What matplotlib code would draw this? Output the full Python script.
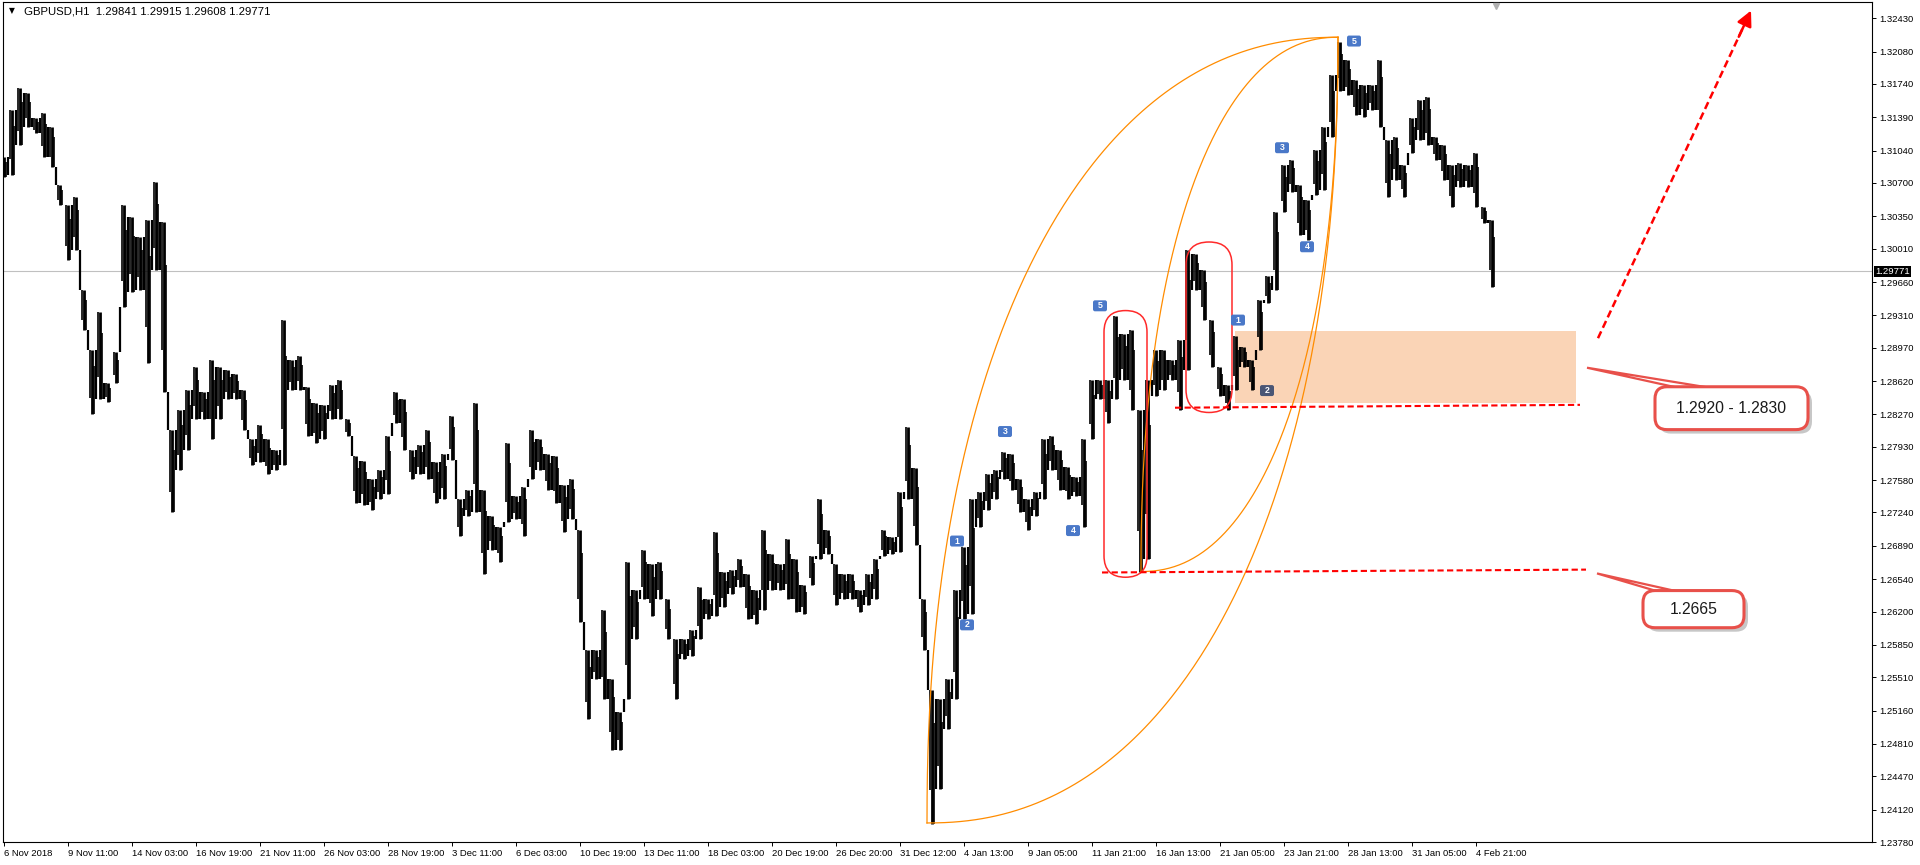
import numpy as np
import matplotlib.pyplot as plt
from matplotlib.patches import FancyBboxPatch, Polygon, Rectangle

plt.rcParams['font.family'] = ['Liberation Sans', 'DejaVu Sans']

# GBPUSD H1 - each column = 8 hourly bars, high / low
highs = [
    1.3097, 1.3147, 1.3170, 1.3164, 1.3138, 1.3143, 1.3129, 1.3068, 1.3047, 1.3055,
    1.2958, 1.2895, 1.2935, 1.2860, 1.2892, 1.3047, 1.3034, 1.3013, 1.3031, 1.3071,
    1.3029, 1.2811, 1.2832, 1.2853, 1.2877, 1.2850, 1.2884, 1.2877, 1.2874, 1.2869,
    1.2853, 1.2801, 1.2816, 1.2801, 1.2790, 1.2926, 1.2884, 1.2888, 1.2856, 1.2839,
    1.2837, 1.2858, 1.2863, 1.2822, 1.2783, 1.2778, 1.2759, 1.2769, 1.2804, 1.2850,
    1.2843, 1.2790, 1.2795, 1.2811, 1.2777, 1.2785, 1.2825, 1.2738, 1.2748, 1.2839,
    1.2748, 1.2720, 1.2709, 1.2797, 1.2741, 1.2751, 1.2811, 1.2801, 1.2785, 1.2783,
    1.2753, 1.2759, 1.2706, 1.2580, 1.2580, 1.2622, 1.2549, 1.2514, 1.2672, 1.2643,
    1.2685, 1.2670, 1.2672, 1.2633, 1.2591, 1.2591, 1.2601, 1.2646, 1.2633, 1.2704,
    1.2661, 1.2664, 1.2675, 1.2659, 1.2643, 1.2706, 1.2680, 1.2670, 1.2696, 1.2675,
    1.2648, 1.2678, 1.2738, 1.2706, 1.2670, 1.2659, 1.2659, 1.2643, 1.2659, 1.2675,
    1.2706, 1.2698, 1.2745, 1.2814, 1.2771, 1.2633, 1.2538, 1.2528, 1.2549, 1.2643,
    1.2688, 1.2738, 1.2745, 1.2764, 1.2769, 1.2788, 1.2785, 1.2759, 1.2738, 1.2745,
    1.2801, 1.2804, 1.2790, 1.2772, 1.2761, 1.2801, 1.2863, 1.2863, 1.2863, 1.2930,
    1.2911, 1.2916, 1.2832, 1.2863, 1.2895, 1.2895, 1.2884, 1.2905, 1.3000, 1.2995,
    1.2979, 1.2926, 1.2877, 1.2858, 1.2909, 1.2898, 1.2884, 1.2947, 1.2972, 1.3039,
    1.3089, 1.3094, 1.3068, 1.3052, 1.3105, 1.3129, 1.3183, 1.3218, 1.3199, 1.3178,
    1.3173, 1.3173, 1.3199, 1.3115, 1.3118, 1.3089, 1.3138, 1.3157, 1.3160, 1.3118,
    1.3110, 1.3089, 1.3091, 1.3089, 1.3101, 1.3045, 1.3031]
lows = [
    1.3076, 1.3078, 1.3110, 1.3129, 1.3122, 1.3097, 1.3087, 1.3047, 1.2989, 1.3000,
    1.2916, 1.2827, 1.2843, 1.2840, 1.2860, 1.2940, 1.2955, 1.2958, 1.2881, 1.2979,
    1.2850, 1.2724, 1.2769, 1.2790, 1.2822, 1.2822, 1.2801, 1.2822, 1.2843, 1.2843,
    1.2811, 1.2774, 1.2777, 1.2764, 1.2769, 1.2774, 1.2853, 1.2853, 1.2804, 1.2797,
    1.2801, 1.2822, 1.2822, 1.2804, 1.2734, 1.2732, 1.2727, 1.2738, 1.2743, 1.2818,
    1.2790, 1.2759, 1.2764, 1.2759, 1.2734, 1.2738, 1.2779, 1.2699, 1.2720, 1.2725,
    1.2659, 1.2685, 1.2672, 1.2714, 1.2717, 1.2699, 1.2759, 1.2769, 1.2748, 1.2734,
    1.2703, 1.2717, 1.2609, 1.2507, 1.2549, 1.2528, 1.2475, 1.2475, 1.2528, 1.2591,
    1.2633, 1.2615, 1.2633, 1.2591, 1.2528, 1.2570, 1.2573, 1.2591, 1.2612, 1.2615,
    1.2625, 1.2638, 1.2646, 1.2612, 1.2607, 1.2622, 1.2643, 1.2643, 1.2633, 1.2619,
    1.2617, 1.2648, 1.2675, 1.2680, 1.2627, 1.2633, 1.2633, 1.2619, 1.2627, 1.2633,
    1.2678, 1.2680, 1.2682, 1.2738, 1.2690, 1.2580, 1.2397, 1.2434, 1.2497, 1.2528,
    1.2612, 1.2617, 1.2709, 1.2727, 1.2738, 1.2759, 1.2748, 1.2724, 1.2706, 1.2720,
    1.2738, 1.2769, 1.2748, 1.2738, 1.2741, 1.2709, 1.2801, 1.2843, 1.2818, 1.2843,
    1.2863, 1.2832, 1.2662, 1.2675, 1.2846, 1.2853, 1.2863, 1.2832, 1.2874, 1.2958,
    1.2926, 1.2877, 1.2846, 1.2832, 1.2853, 1.2877, 1.2853, 1.2895, 1.2944, 1.2958,
    1.3039, 1.3060, 1.3015, 1.3010, 1.3057, 1.3063, 1.3118, 1.3167, 1.3162, 1.3141,
    1.3139, 1.3147, 1.3129, 1.3055, 1.3073, 1.3055, 1.3101, 1.3115, 1.3110, 1.3094,
    1.3073, 1.3045, 1.3066, 1.3066, 1.3045, 1.3028, 1.2961]
bars_per_col = 8

time_labels = ['6 Nov 2018', '9 Nov 11:00', '14 Nov 03:00', '16 Nov 19:00', '21 Nov 11:00',
               '26 Nov 03:00', '28 Nov 19:00', '3 Dec 11:00', '6 Dec 03:00', '10 Dec 19:00',
               '13 Dec 11:00', '18 Dec 03:00', '20 Dec 19:00', '26 Dec 20:00', '31 Dec 12:00',
               '4 Jan 13:00', '9 Jan 05:00', '11 Jan 21:00', '16 Jan 13:00', '21 Jan 05:00',
               '23 Jan 21:00', '28 Jan 13:00', '31 Jan 05:00', '4 Feb 21:00']
label_step = 64  # bars between time labels

price_ticks = [1.32430, 1.32080, 1.31740, 1.31390, 1.31040, 1.30700, 1.30350, 1.30010,
               1.29660, 1.29310, 1.28970, 1.28620, 1.28270, 1.27930, 1.27580, 1.27240,
               1.26890, 1.26540, 1.26200, 1.25850, 1.25510, 1.25160, 1.24810, 1.24470,
               1.24120, 1.23780]
last_price = 1.29771
ohlc_text = 'GBPUSD,H1  1.29841 1.29915 1.29608 1.29771'

# drawn objects (bar, price)
arc_lows = [(923, 1.2398), (1137, 1.2662)]
arc_high = (1334, 1.3223)
arc_shape = 2.2  # superellipse exponent of the arcs
capsules = [(1100, 1143, 1.2656, 1.2936), (1182, 1228, 1.2829, 1.3008)]
zone = (1231, 1572, 1.2839, 1.2915)
support_lines = [((1171, 1.2834), (1576, 1.2837)), ((1098, 1.2661), (1582, 1.2664))]
arrow_from, arrow_to = (1594, 1.2907), (1747, 1.3251)
callouts = [('1.2920 - 1.2830', (1651, 1804, 1.2811, 1.2856), (1583, 1.2876), (1683, 1718)),
            ('1.2665', (1639, 1740, 1.2603, 1.2642), (1593, 1.2660), (1661, 1683))]
wave_tags = [('1', 953, 1.2694), ('2', 963, 1.2606), ('3', 1001, 1.2809), ('4', 1069, 1.2705),
             ('5', 1096, 1.2941), ('1', 1234, 1.2926), ('2', 1263, 1.2852), ('3', 1278, 1.3107),
             ('4', 1303, 1.3003), ('5', 1350, 1.3219)]

y_min, y_max = 1.2379, 1.3260
x_min, x_max = -1, 1868

fig = plt.figure(figsize=(19.2, 8.65), dpi=100)
ax = fig.add_axes([3/1920, 23/865, 1869/1920, 840/865])
ax.set_xlim(x_min, x_max)
ax.set_ylim(y_min, y_max)
ppp = (y_max - y_min) / 840  # price per pixel

# current price line
ax.axhline(last_price, color='#c0c0c0', lw=0.8, zorder=1)

# support zone
ax.add_patch(Rectangle((zone[0], zone[2]), zone[1] - zone[0], zone[3] - zone[2],
                       fc='#fad4b6', ec='none', zorder=1.5))

# price bars + joins between neighbouring columns
xs = np.arange(len(highs)) * bars_per_col
hi = np.array(highs)
lo = np.array(lows)
ax.vlines(xs, lo, hi, color='black', lw=2.0, zorder=3)
ax.vlines(xs - 2, lo + 0.25 * (hi - lo), hi, color='black', lw=1.2, zorder=3)
ax.vlines(xs + 2, lo, hi - 0.25 * (hi - lo), color='black', lw=1.2, zorder=3)
join_top = np.minimum(hi[:-1], hi[1:])
join_bot = np.maximum(lo[:-1], lo[1:])
ax.vlines(xs[:-1] + bars_per_col / 2, np.minimum(join_top, join_bot),
          np.maximum(join_top, join_bot), color='black', lw=1.6, zorder=3)

# arcs
t = np.linspace(0, np.pi / 2, 200)
c = np.cos(t) ** (2 / arc_shape)
s = np.sin(t) ** (2 / arc_shape)
xh, yh = arc_high
for xl, yl in arc_lows:
    ax.plot(xh - (xh - xl) * c, yl + (yh - yl) * s, color='#ff8c00', lw=0.9, zorder=4)
    ax.plot(xl + (xh - xl) * s, yh - (yh - yl) * c, color='#ff8c00', lw=0.9, zorder=4)

# red capsules
for x0, x1, y0, y1 in capsules:
    r = (x1 - x0) / 2
    ax.add_patch(FancyBboxPatch((x0, y0), x1 - x0, y1 - y0,
                                boxstyle=f'round,pad=0,rounding_size={r}', mutation_aspect=ppp,
                                fc='none', ec='#ff2a2a', lw=1.1, zorder=5))

# dashed levels
for (x0, y0), (x1, y1) in support_lines:
    ax.plot([x0, x1], [y0, y1], color='red', lw=1.5, ls=(0, (3, 1.6)), zorder=5)

# dashed arrow
(a0, b0), (a1, b1) = arrow_from, arrow_to
ax.plot([a0, a1 - 0.05 * (a1 - a0)], [b0, b1 - 0.05 * (b1 - b0)], color='red', lw=1.8,
        ls=(0, (3, 1.6)), zorder=5)
ax.annotate('', xy=arrow_to, xytext=(a1 - 0.08 * (a1 - a0), b1 - 0.08 * (b1 - b0)),
            arrowprops=dict(arrowstyle='-|>,head_length=0.7,head_width=0.35', color='red',
                            lw=1.8, shrinkA=0, shrinkB=0, mutation_scale=13), zorder=5)

# callouts
for text, (x0, x1, y0, y1), tip, (bx0, bx1) in callouts:
    ax.add_patch(FancyBboxPatch((x0 + 4, y0 - 4 * ppp), x1 - x0, y1 - y0,
                                boxstyle='round,pad=0,rounding_size=12', mutation_aspect=ppp,
                                fc='black', alpha=0.22, ec='none', zorder=6))
    ax.add_patch(Polygon([tip, (bx0, y1 - 3 * ppp), (bx1, y1 - 3 * ppp)], closed=True,
                         fc='white', ec='#e8504a', lw=1.6, zorder=6.5))
    ax.add_patch(FancyBboxPatch((x0, y0), x1 - x0, y1 - y0,
                                boxstyle='round,pad=0,rounding_size=12', mutation_aspect=ppp,
                                fc='white', ec='#e8504a', lw=2.2, zorder=7))
    ax.text((x0 + x1) / 2, (y0 + y1) / 2, text, ha='center', va='center', fontsize=11.3,
            color='#1a1a1a', zorder=8)

# wave count tags
for s_, x, y in wave_tags:
    col = '#4a5675' if (s_ == '2' and x > 1200) else '#4a78c8'
    ax.add_patch(FancyBboxPatch((x - 7, y - 5.5 * ppp), 14, 11 * ppp,
                                boxstyle='round,pad=0,rounding_size=2', mutation_aspect=ppp,
                                fc=col, ec='none', zorder=6))
    ax.text(x, y, s_, ha='center', va='center', color='white', fontsize=6.3, fontweight='bold', zorder=7)

# axes styling
for sp in ax.spines.values():
    sp.set_linewidth(0.8)
ax.yaxis.tick_right()
ax.set_yticks(price_ticks)
ax.set_yticklabels([f'{p:.5f}' for p in price_ticks])
ax.set_xticks(np.arange(len(time_labels)) * label_step)
ax.set_xticklabels(time_labels, ha='left')
ax.tick_params(axis='both', direction='out', length=3, width=0.7, pad=2, labelsize=6.8)

# current price tag
ax.text(1.0 + 3 / 1869, last_price, f'{last_price:.5f}', transform=ax.get_yaxis_transform(),
        ha='left', va='center', fontsize=6.8, color='white', clip_on=False, zorder=10,
        bbox=dict(boxstyle='square,pad=0.15', fc='black', ec='none'))

# chart shift marker
ax.plot(1492, y_max - 4 * ppp, marker='v', ms=5, color='#b0b0b0', clip_on=False, zorder=9)

fig.text(9 / 1920, 1 - 11 / 865, '▼', fontsize=5.5, va='center', family='DejaVu Sans')
fig.text(24 / 1920, 1 - 11 / 865, ohlc_text, fontsize=8.2, va='center')

fig.savefig('out.png', dpi=100, facecolor='white')
